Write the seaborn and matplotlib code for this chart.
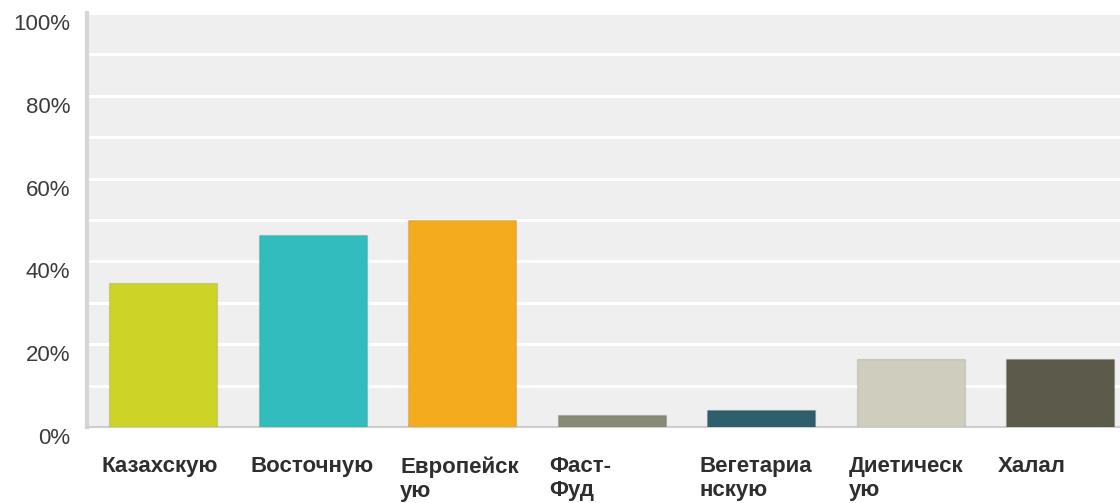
import matplotlib
matplotlib.use("Agg")
import matplotlib.pyplot as plt
from matplotlib.transforms import ScaledTranslation
from matplotlib.ticker import MultipleLocator, FuncFormatter
import seaborn as sns
import pandas as pd

# Cuisine preference shares, percent of respondents
categories = ["Казахскую", "Восточную", "Европейскую", "Фаст-Фуд",
              "Вегетарианскую", "Диетическую", "Халал"]
tick_labels = ["Казахскую", "Восточную", "Европейск\nую", "Фаст-\nФуд",
               "Вегетариа\nнскую", "Диетическ\nую", "Халал"]
shares = [34.8, 46.3, 50.1, 2.9, 4.0, 16.4, 16.4]
colors = ["#cdd426", "#32bcbd", "#f5ab1e", "#878a76",
          "#2e5f6d", "#cfcdbd", "#5b5a4b"]

df = pd.DataFrame({"cuisine": categories, "share": shares})

sns.set_theme(style="white")
plt.rcParams["font.family"] = ["Liberation Sans", "DejaVu Sans"]

fig = plt.figure(figsize=(11.2, 5.03), dpi=100)
ax = fig.add_axes([87 / 1120, 76 / 503, 1 - 87 / 1120, (427 - 13) / 503])
ax.set_facecolor("#efefef")

sns.barplot(data=df, x="cuisine", y="share", hue="cuisine",
            palette=colors, saturation=1, width=0.72, legend=False, ax=ax,
            edgecolor="#00000018", linewidth=1.0, zorder=3)

ax.set_ylim(0, 100)
ax.set_xlim(-0.51, 6.4)
ax.yaxis.set_major_locator(MultipleLocator(20))
ax.yaxis.set_minor_locator(MultipleLocator(10))
ax.yaxis.set_major_formatter(FuncFormatter(lambda v, _: f"{v:.0f}%"))
ax.grid(True, which="both", axis="y", color="white", linewidth=2.2, zorder=0)
ax.grid(False, axis="x")
ax.set_axisbelow(True)

ax.set_xlabel("")
ax.set_ylabel("")

for side in ("top", "right"):
    ax.spines[side].set_visible(False)
ax.spines["left"].set_color("#d6d6d6")
ax.spines["left"].set_linewidth(3)
ax.spines["bottom"].set_color("#cfcfcf")
ax.spines["bottom"].set_linewidth(1.5)

ax.tick_params(axis="y", length=0, pad=12, labelsize=16, labelcolor="#3c3c3c")
ax.tick_params(axis="x", length=0, pad=21)
ax.set_xticks(range(len(categories)))
ax.set_xticklabels(tick_labels, ha="left", va="top", fontsize=16,
                   fontweight="bold", color="#2e2e2e", linespacing=1.2)

# shift labels: y labels sit below their gridlines, x labels start at the bar's left edge
for lbl in ax.get_yticklabels():
    lbl.set_transform(lbl.get_transform() + ScaledTranslation(0, -9 / 100, fig.dpi_scale_trans))
for lbl in ax.get_xticklabels():
    lbl.set_transform(lbl.get_transform() + ScaledTranslation(-62 / 100, 0, fig.dpi_scale_trans))

fig.savefig("out.png", dpi=100)
